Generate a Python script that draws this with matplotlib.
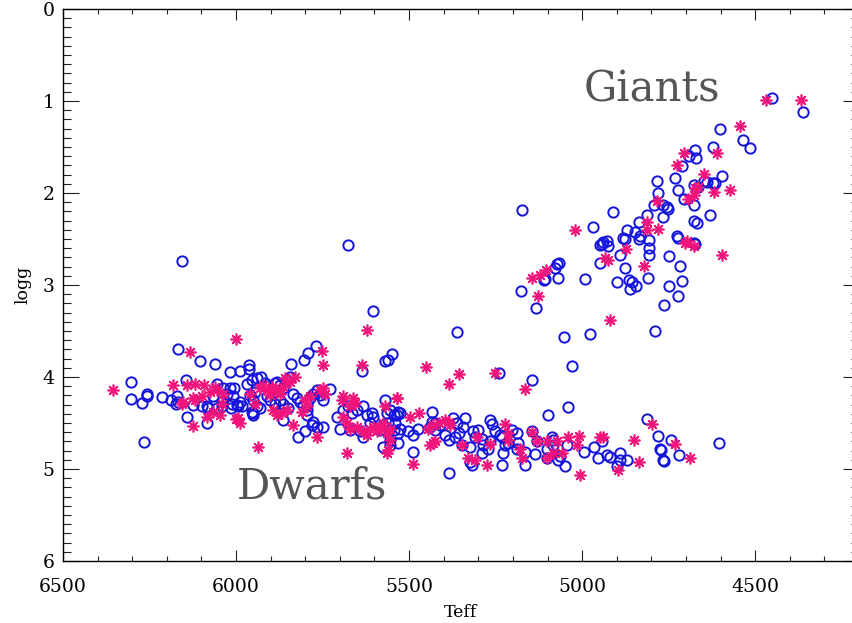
import matplotlib
matplotlib.use("Agg")
import matplotlib.pyplot as plt
import numpy as np
from matplotlib.ticker import MultipleLocator

# blue open circles (Teff, logg)
circles = [
    # giants / subgiants
    (4452, 0.97), (4362, 1.12), (4601, 1.30), (4534, 1.42), (4515, 1.51), (4622, 1.50),
    (4673, 1.53), (4690, 1.60), (4671, 1.62), (4712, 1.71), (4784, 1.87), (4731, 1.84),
    (4780, 2.00), (4724, 1.97), (4678, 1.91), (4649, 1.87), (4638, 1.88), (4622, 1.89),
    (4616, 1.89), (4596, 1.81), (4664, 1.94), (4707, 2.07), (4792, 2.13), (4765, 2.13),
    (4755, 2.15), (4751, 2.17), (4676, 2.13), (4767, 2.26), (4813, 2.24), (4630, 2.24),
    (4678, 2.30), (4667, 2.33), (4911, 2.21), (4970, 2.37), (4837, 2.32), (4847, 2.42),
    (4871, 2.40), (4881, 2.49), (4876, 2.50), (4837, 2.50), (4832, 2.47), (4808, 2.51),
    (4808, 2.60), (4808, 2.67), (4948, 2.57), (4939, 2.53), (4929, 2.52), (4924, 2.58),
    (4943, 2.55), (4727, 2.47), (4722, 2.49), (4678, 2.54), (4673, 2.55), (4892, 2.67),
    (4748, 2.69), (5174, 2.19), (4949, 2.76), (5073, 2.77), (5066, 2.76), (5078, 2.81),
    (4876, 2.81), (4718, 2.79), (5107, 2.93), (5110, 2.95), (5070, 2.92), (4993, 2.94),
    (4900, 2.97), (4864, 2.95), (4857, 2.97), (4845, 3.01), (4862, 3.04), (4811, 2.92),
    (4712, 2.96), (4749, 3.01), (4722, 3.12), (4762, 3.22), (5177, 3.06), (5133, 3.25),
    (5052, 3.57), (4978, 3.53), (4789, 3.50), (6157, 2.74), (5676, 2.57), (5605, 3.28),
    (5362, 3.51), (5028, 3.88), (5146, 4.03), (5240, 3.96),
    # dwarfs
    (6303, 4.05), (6304, 4.24), (6273, 4.28), (6266, 4.71), (6256, 4.19), (6256, 4.21),
    (6213, 4.22), (6189, 4.25), (6170, 4.21), (6167, 4.27), (6173, 4.29), (6168, 3.70),
    (6145, 4.03), (6141, 4.44), (6123, 4.30), (6104, 3.83), (6099, 4.31), (6085, 4.31),
    (6080, 4.34), (6085, 4.50), (6061, 3.86), (6056, 4.08), (6037, 4.12), (6017, 4.12),
    (6006, 4.12), (6027, 4.18), (6008, 4.21), (6012, 4.29), (6015, 4.34), (6056, 4.34),
    (6041, 4.32), (6066, 4.21), (6041, 4.27), (6017, 3.95), (5998, 4.30), (5984, 4.32),
    (5990, 3.94), (5964, 3.91), (5962, 3.87), (5969, 4.08), (5955, 4.03), (5940, 4.01),
    (5945, 4.16), (5960, 4.20), (5950, 4.25), (5940, 4.32), (5950, 4.39), (5929, 4.00),
    (5993, 4.32), (5988, 4.27), (5916, 4.07), (5907, 4.10), (5911, 4.21), (5902, 4.25),
    (5931, 4.34), (5950, 4.41), (5955, 4.38), (5842, 3.86), (5803, 3.82), (5791, 3.74),
    (5770, 3.66), (5569, 3.83), (5560, 3.81), (5550, 3.75), (5637, 3.94), (5728, 4.13),
    (5834, 4.18), (5825, 4.23), (5815, 4.27), (5806, 4.32), (5796, 4.29), (5786, 4.23),
    (5777, 4.18), (5767, 4.14), (5757, 4.20), (5748, 4.25), (5820, 4.65), (5801, 4.59),
    (5796, 4.36), (5796, 4.41), (5781, 4.52), (5777, 4.49), (5767, 4.54), (5748, 4.54),
    (5873, 4.09), (5863, 4.12), (5853, 4.03), (5844, 4.00), (5863, 4.29), (5849, 4.34),
    (5863, 4.47), (5887, 4.07), (5882, 4.05), (5887, 4.29), (5873, 4.25), (5709, 4.43),
    (5699, 4.56), (5690, 4.36), (5676, 4.32), (5666, 4.39), (5651, 4.36), (5632, 4.32),
    (5622, 4.41), (5608, 4.39), (5613, 4.50), (5603, 4.43), (5632, 4.65), (5642, 4.59),
    (5671, 4.58), (5574, 4.76), (5555, 4.68), (5569, 4.25), (5555, 4.36), (5536, 4.41),
    (5541, 4.50), (5565, 4.39), (5545, 4.41), (5531, 4.38), (5526, 4.39), (5584, 4.58),
    (5574, 4.52), (5560, 4.50), (5545, 4.58), (5531, 4.61), (5526, 4.56), (5555, 4.74),
    (5531, 4.72), (5502, 4.59), (5488, 4.63), (5473, 4.56), (5435, 4.38), (5435, 4.49),
    (5425, 4.50), (5410, 4.52), (5425, 4.58), (5439, 4.54), (5488, 4.82), (5386, 5.04),
    (5396, 4.63), (5386, 4.68), (5367, 4.65), (5357, 4.61), (5348, 4.74), (5338, 4.45),
    (5343, 4.54), (5362, 4.50), (5372, 4.45), (5324, 4.76), (5319, 4.96), (5324, 4.92),
    (5314, 4.59), (5300, 4.58), (5309, 4.65), (5290, 4.67), (5286, 4.74), (5290, 4.83),
    (5271, 4.78), (5266, 4.70), (5266, 4.47), (5261, 4.51), (5252, 4.59), (5237, 4.63),
    (5232, 4.65), (5223, 4.74), (5228, 4.83), (5213, 4.72), (5203, 4.58), (5189, 4.61),
    (5184, 4.72), (5189, 4.78), (5232, 4.96), (5165, 4.96), (5146, 4.59), (5136, 4.84),
    (5165, 4.81), (5131, 4.70), (5102, 4.78), (5083, 4.74), (5088, 4.65), (5083, 4.68),
    (5102, 4.88), (5069, 4.90), (5064, 4.86), (5049, 4.97), (5045, 4.74), (5099, 4.41),
    (5042, 4.33), (4996, 4.82), (4967, 4.76), (4953, 4.88), (4943, 4.70), (4929, 4.85),
    (4919, 4.87), (4900, 4.97), (4890, 4.83), (4871, 4.90), (4890, 4.90), (4813, 4.46),
    (4780, 4.64), (4744, 4.69), (4775, 4.78), (4772, 4.79), (4765, 4.90), (4762, 4.91),
    (4720, 4.85), (4604, 4.72),
]

# magenta asterisks (Teff, logg)
stars = [
    (4468, 0.99), (4368, 0.99), (4545, 1.27), (4705, 1.56), (4609, 1.57), (4727, 1.70),
    (4649, 1.79), (4574, 1.97), (4620, 1.99), (4673, 1.95), (4664, 1.94), (4678, 2.02),
    (4693, 2.07), (4784, 2.09), (4813, 2.31), (4813, 2.40), (4780, 2.39), (4698, 2.52),
    (4702, 2.54), (4678, 2.58), (4874, 2.61), (4596, 2.67), (4934, 2.71), (4924, 2.73),
    (4820, 2.79), (5022, 2.40), (5144, 2.92), (5122, 2.89), (5104, 2.84), (5128, 3.12),
    (4920, 3.38), (5622, 3.49), (6000, 3.59), (6133, 3.73), (5752, 3.72), (5749, 3.87),
    (5637, 3.87), (5452, 3.89), (5386, 4.08), (5355, 3.97), (5252, 3.96), (5165, 4.13),
    (6355, 4.14), (6181, 4.09), (6142, 4.09), (6118, 4.08), (6092, 4.09), (6157, 4.29),
    (6152, 4.27), (6125, 4.23), (6118, 4.25), (6099, 4.21), (6075, 4.16), (6061, 4.11),
    (6056, 4.14), (6037, 4.18), (6125, 4.53), (6085, 4.43), (6066, 4.38), (6046, 4.41),
    (6000, 4.46), (5990, 4.50), (5993, 4.45), (5945, 4.29), (5938, 4.76), (6041, 4.29),
    (5960, 4.19), (5931, 4.12), (5921, 4.09), (5911, 4.14), (5902, 4.20), (5897, 4.11),
    (5882, 4.14), (5873, 4.18), (5863, 4.11), (5858, 4.01), (5830, 4.00), (5844, 4.05),
    (5892, 4.36), (5882, 4.41), (5868, 4.39), (5853, 4.36), (5834, 4.52), (5767, 4.65),
    (5757, 4.14), (5748, 4.12), (5743, 4.18), (5786, 4.21), (5801, 4.25), (5796, 4.32),
    (5810, 4.38), (5690, 4.21), (5695, 4.25), (5661, 4.23), (5671, 4.32), (5656, 4.28),
    (5680, 4.83), (5690, 4.43), (5680, 4.50), (5671, 4.56), (5651, 4.54), (5632, 4.59),
    (5622, 4.63), (5613, 4.56), (5603, 4.54), (5594, 4.59), (5584, 4.54), (5574, 4.50),
    (5569, 4.32), (5555, 4.56), (5564, 4.61), (5555, 4.68), (5560, 4.79), (5564, 4.83),
    (5536, 4.23), (5534, 4.23), (5497, 4.43), (5470, 4.39), (5488, 4.95), (5444, 4.56),
    (5430, 4.52), (5415, 4.50), (5396, 4.47), (5386, 4.49), (5381, 4.52), (5430, 4.72),
    (5439, 4.74), (5425, 4.70), (5348, 4.74), (5329, 4.88), (5309, 4.90), (5305, 4.65),
    (5276, 4.96), (5266, 4.73), (5223, 4.51), (5213, 4.61), (5213, 4.68), (5179, 4.78),
    (5174, 4.88), (5146, 4.60), (5131, 4.70), (5102, 4.88), (5102, 4.70), (5083, 4.83),
    (5073, 4.70), (5059, 4.83), (5040, 4.65), (5016, 4.74), (5008, 4.64), (5006, 5.06),
    (4948, 4.65), (4941, 4.65), (4895, 5.01), (4799, 4.51), (4849, 4.68), (4835, 4.92),
    (4731, 4.73), (4688, 4.88),
]

teff_c, logg_c = np.array(circles).T
teff_s, logg_s = np.array(stars).T

plt.rcParams['font.family'] = 'DejaVu Serif'

fig = plt.figure(figsize=(8.52, 6.23), dpi=100)
ax = fig.add_axes([63 / 852, 62 / 623, 796 / 852, 552 / 623])

ax.plot(teff_c, logg_c, 'o', ls='none', mfc='none', mec='#1414dc', mew=1.4, ms=7.4)
ax.plot(teff_s, logg_s, ls='none', marker=(8, 2, 0), color='#f2147a', mew=1.2, ms=8.5)

ax.set_xlim(6500, 4200)
ax.set_ylim(6, 0)

ax.xaxis.set_major_locator(MultipleLocator(500))
ax.xaxis.set_minor_locator(MultipleLocator(100))
ax.yaxis.set_major_locator(MultipleLocator(1))
ax.yaxis.set_minor_locator(MultipleLocator(0.1))

ax.tick_params(which='both', direction='in', top=True, right=True, width=0.8, color='#222222')
ax.tick_params(axis='x', which='major', length=8, pad=12, labelsize=13.5)
ax.tick_params(axis='x', which='minor', length=3.8)
ax.tick_params(axis='y', which='major', length=11.5, pad=6, labelsize=13.5)
ax.tick_params(axis='y', which='minor', length=5.8)
for s in ax.spines.values():
    s.set_linewidth(1.0)

ax.set_xlabel('Teff', fontsize=12.5, labelpad=6)
ax.set_ylabel('logg', fontsize=12.5, labelpad=8)

ax.text(4997, 1.01, 'Giants', fontsize=30, color='#555555', va='baseline', ha='left')
ax.text(5997, 5.32, 'Dwarfs', fontsize=30, color='#555555', va='baseline', ha='left')

fig.savefig('out.png', dpi=100)
